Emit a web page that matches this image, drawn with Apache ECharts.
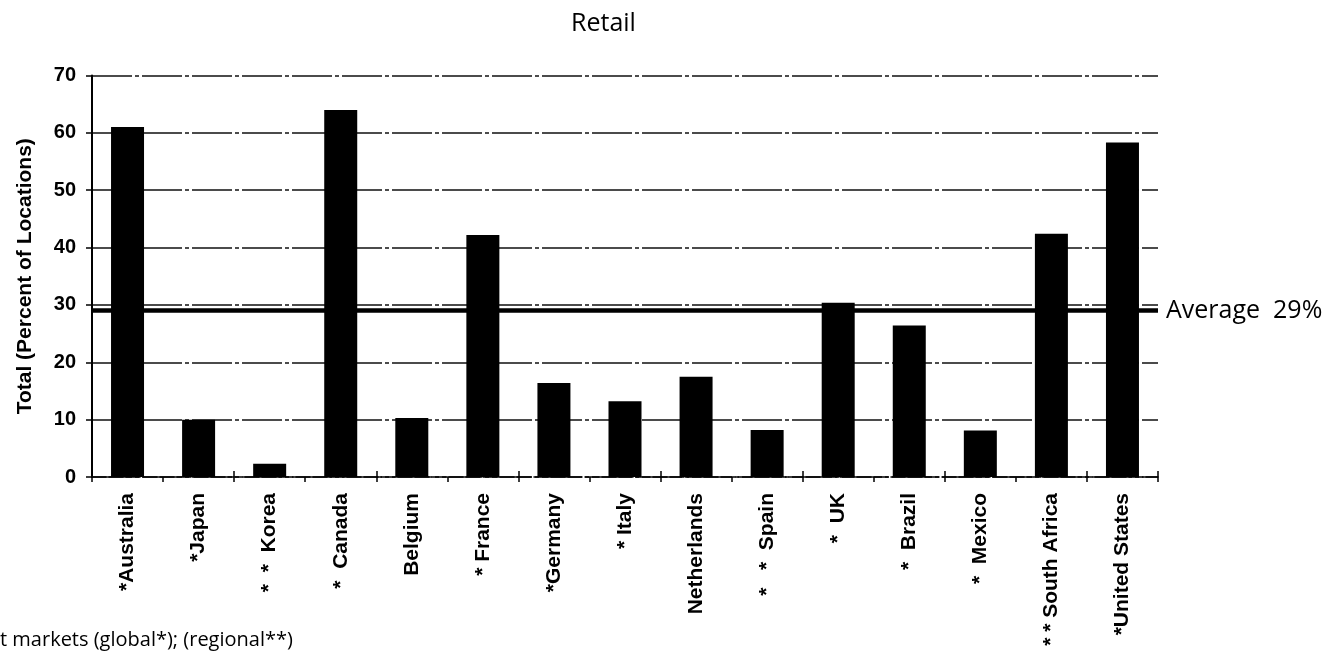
<!DOCTYPE html>
<html>
<head>
<meta charset="utf-8">
<script src="https://cdn.jsdelivr.net/npm/echarts@6/dist/echarts.min.js"></script>
<style>
html,body{margin:0;padding:0;background:#fff;}
#chart{width:1343px;height:655px;}
</style>
</head>
<body>
<div id="chart"></div>
<script>
const categories = ["*Australia", "*Japan", "*  *  Korea", "*  Canada", "Belgium", "* France", "*Germany", "* Italy", "Netherlands", "*   *  Spain", "*  UK", "*  Brazil", "*  Mexico", "* * South Africa", "*United States"];
const values = [61, 10, 2.3, 64, 10.3, 42.2, 16.4, 13.2, 17.5, 8.2, 30.4, 26.4, 8.1, 42.4, 58.3];
const averageValue = 29;
const averageLabel = "Average  29%";
const yTicks = [0, 10, 20, 30, 40, 50, 60, 70];
const titleText = "Retail";
const yName = "Total (Percent of Locations)";
const footnote = "t markets (global*); (regional**)";

const chart = echarts.init(document.getElementById('chart'), null, {renderer: 'canvas'});
const option = {
  backgroundColor: '#fff',
  animation: false,
  title: {
    text: titleText,
    left: 566, top: 6,
    textStyle: {fontFamily: 'Open Sans', fontWeight: 'normal', fontSize: 25, color: '#000'}
  },
  graphic: [{
    type: 'text', left: 0, top: 630,
    style: {text: footnote, font: '20px "Open Sans"', fill: '#000'}
  }],
  grid: {left: 92, right: 185, top: 75.5, bottom: 178, containLabel: false, outerBoundsMode: 'none'},
  xAxis: [{
    type: 'category', data: categories, position: 'bottom',
    axisLine: {show: true, lineStyle: {color: '#000', width: 1.5, type: [14, 3]}},
    axisTick: {show: true, inside: false, length: 5, lineStyle: {color: '#000', width: 1.5}},
    axisLabel: {
      rotate: 90, interval: 0, margin: 16, color: '#000',
      fontFamily: 'Liberation Sans', fontWeight: 'bold', fontSize: 21
    },
    splitLine: {show: false}
  }, {
    type: 'category', data: categories, position: 'bottom',
    axisLine: {show: false},
    axisTick: {show: true, inside: true, length: 6, lineStyle: {color: '#000', width: 1.5}},
    axisLabel: {show: false},
    splitLine: {show: false}
  }],
  yAxis: {
    type: 'value', min: yTicks[0], max: yTicks[yTicks.length - 1], interval: 10,
    name: yName, nameLocation: 'middle', nameGap: 56, nameRotate: 90,
    nameTextStyle: {fontFamily: 'Liberation Sans', fontWeight: 'bold', fontSize: 21, color: '#000'},
    axisLine: {show: true, lineStyle: {color: '#000', width: 2}},
    axisTick: {show: true, inside: false, length: 6, lineStyle: {color: '#000', width: 1.5}},
    axisLabel: {margin: 16, color: '#000', fontFamily: 'Liberation Sans', fontWeight: 'bold', fontSize: 20},
    splitLine: {show: true, lineStyle: {color: '#111', width: 1.5, type: [40, 3, 4, 3]}}
  },
  series: [{
    type: 'bar', data: values, xAxisIndex: 0, barWidth: 33,
    itemStyle: {color: '#000'},
    markLine: {
      silent: true, symbol: 'none',
      data: [{yAxis: averageValue}],
      lineStyle: {color: '#000', width: 4.5, type: 'solid'},
      label: {
        show: true, position: 'end', distance: 8, formatter: averageLabel,
        fontFamily: 'Open Sans', fontSize: 25, color: '#000'
      }
    }
  }]
};
chart.setOption(option);
</script>
</body>
</html>
